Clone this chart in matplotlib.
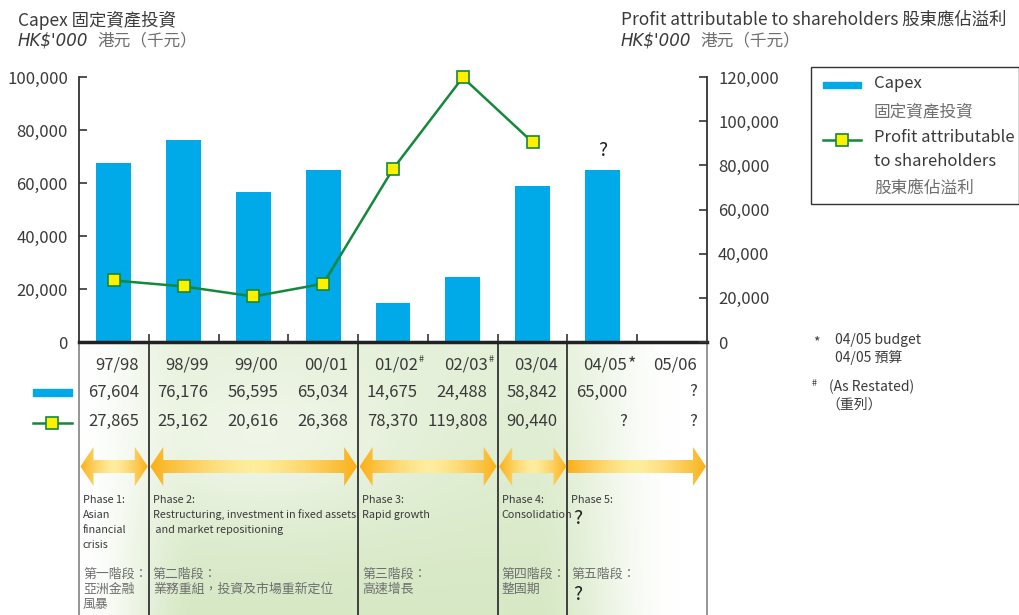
import numpy as np
import matplotlib
matplotlib.use("Agg")
import matplotlib.pyplot as plt
from matplotlib.patches import Rectangle, Polygon
from matplotlib.ticker import FuncFormatter

plt.rcParams["font.family"] = ["Noto Sans CJK TC", "DejaVu Sans"]

# data (HK$'000)
years = ["97/98", "98/99", "99/00", "00/01", "01/02", "02/03", "03/04", "04/05", "05/06"]
year_marks = ["", "", "", "", "#", "#", "", "*", ""]
capex = [67604, 76176, 56595, 65034, 14675, 24488, 58842, 65000, None]
profit = [27865, 25162, 20616, 26368, 78370, 119808, 90440, None, None]

# phases: first and last year index covered
phase_spans = [(0, 0), (1, 3), (4, 5), (6, 6), (7, 8)]
phase_en = [
    ["Phase 1:", "Asian", "financial", "crisis"],
    ["Phase 2:", "Restructuring, investment in fixed assets", " and market repositioning"],
    ["Phase 3:", "Rapid growth"],
    ["Phase 4:", "Consolidation"],
    ["Phase 5:"],
]
phase_zh = [
    ["第一階段：", "亞洲金融", "風暴"],
    ["第二階段：", "業務重組，投資及市場重新定位"],
    ["第三階段：", "高速增長"],
    ["第四階段：", "整固期"],
    ["第五階段："],
]

BAR = "#00a9e8"
GREEN = "#14883c"
YELLOW = "#fff000"
TXT = "#3a3a3a"
ZH = "#6e6e6e"

W, H = 1020, 615
X0, X1 = 79, 707          # plot area in pixels
Y0, YTOP = 342, 77
n = len(years)
cw = (X1 - X0) / n


def px(x):
    return X0 + (x + 0.5) * cw


fig = plt.figure(figsize=(W / 100, H / 100), dpi=100)

# background layer in pixel coordinates
bg = fig.add_axes([0, 0, 1, 1])
bg.set_xlim(0, W)
bg.set_ylim(H, 0)
bg.axis("off")

# green wash behind the table
gx = np.arange(X0, X1) + 0.5
gy = np.arange(Y0, H) + 0.5
GX, GY = np.meshgrid(gx, gy)
up = np.clip((GX - X0) / 120, 0, 1)
down = np.clip((680 - GX) / 150, 0, 1)
hx = (3 * up ** 2 - 2 * up ** 3) * (3 * down ** 2 - 2 * down ** 3)
vy = 0.65 + 0.35 * (GY - Y0) / (H - Y0)
spot = np.exp(-(((GX - 260) / 150) ** 2 + ((GY - 440) / 80) ** 2))
wgt = (hx * vy * (1 - 0.5 * spot))[..., None]
green = np.array([0.84, 0.91, 0.77])
img = 1 - wgt * (1 - green)
bg.imshow(img, extent=(X0, X1, H, Y0), aspect="auto", interpolation="bilinear", zorder=0)

# phase dividers
bounds = [phase_spans[0][0] - 0.5] + [s[1] + 0.5 for s in phase_spans]
for k, b in enumerate(bounds):
    outer = k in (0, len(bounds) - 1)
    bg.plot([px(b), px(b)], [Y0, H], color="#8c8c8c" if outer else "#333333",
            lw=1.3, zorder=2)

# phase arrows with a light centre
yc, hs, hh, hl = 466.5, 6.5, 19.5, 13
orange = np.array([0.98, 0.69, 0.10])
pale = np.array([1.0, 0.93, 0.62])
for k, (a, b) in enumerate(phase_spans):
    xl = px(a - 0.5) + 1.5
    xr = px(b + 0.5) - 1
    if k < len(phase_spans) - 1:
        pts = [(xl, yc), (xl + hl, yc - hh), (xl + hl, yc - hs), (xr - hl, yc - hs),
               (xr - hl, yc - hh), (xr, yc), (xr - hl, yc + hh), (xr - hl, yc + hs),
               (xl + hl, yc + hs), (xl + hl, yc + hh)]
    else:
        xl -= 1
        pts = [(xl, yc - hs), (xr - hl, yc - hs), (xr - hl, yc - hh), (xr, yc),
               (xr - hl, yc + hh), (xr - hl, yc + hs), (xl, yc + hs)]
    poly = Polygon(pts, closed=True, fill=False, edgecolor="none")
    bg.add_patch(poly)
    t = np.abs(np.linspace(-1, 1, 200))
    cols = pale[None, :] + (orange - pale)[None, :] * (t[:, None] ** 1.4)
    im = bg.imshow(cols[None, :, :], extent=(xl, xr, yc + hh, yc - hh),
                   aspect="auto", interpolation="bilinear", zorder=3)
    im.set_clip_path(poly)

    # phase descriptions
    tx = px(a - 0.5) + 4
    for j, line in enumerate(phase_en[k]):
        bg.text(tx, 500 + 15 * j, line, fontsize=7.8, color=TXT,
                va="center", ha="left", zorder=4)
    for j, line in enumerate(phase_zh[k]):
        bg.text(tx, 574 + 15 * j, line, fontsize=9.3, color=ZH,
                va="center", ha="left", zorder=4)
bg.text(px(6.5) + 6, 519, "?", fontsize=14, color="#222222", va="center", zorder=4)
bg.text(px(6.5) + 6, 594, "?", fontsize=14, color="#222222", va="center", zorder=4)


def fmt(v):
    return "?" if v is None else f"{v:,.0f}"


# table rows
for i in range(n):
    xr = px(i + 0.5) - 10
    bg.text(xr, 365.5, years[i], fontsize=12, color=TXT, ha="right", va="center", zorder=4)
    if year_marks[i] == "#":
        bg.text(xr + 1, 359, "#", fontsize=6.5, color=TXT, ha="left", va="center", zorder=4)
    elif year_marks[i] == "*":
        bg.text(xr + 1, 364, "*", fontsize=13, color=TXT, ha="left", va="center", zorder=4)
    bg.text(xr, 392, fmt(capex[i]), fontsize=12, color=TXT, ha="right", va="center", zorder=4)
    bg.text(xr, 421.5, fmt(profit[i]), fontsize=12, color=TXT, ha="right", va="center", zorder=4)

bg.add_patch(Rectangle((33, 389), 39, 7, color=BAR, zorder=4))
bg.plot([33, 72], [423, 423], color=GREEN, lw=1.8, zorder=4)
bg.plot([52.5], [423], marker="s", ms=8, mfc=YELLOW, mec=GREEN, mew=1.2, zorder=5)

# titles
bg.text(18, 20, "Capex 固定資產投資", fontsize=12.5, color=TXT, va="center")
bg.text(18, 41, "HK$'000", fontsize=12, color=TXT, style="italic", va="center",
        family=["DejaVu Sans"])
bg.text(97, 41, "港元（千元）", fontsize=12, color=ZH, va="center")
bg.text(621, 20, "Profit attributable to shareholders 股東應佔溢利", fontsize=12.5,
        color=TXT, va="center")
bg.text(621, 41, "HK$'000", fontsize=12, color=TXT, style="italic", va="center",
        family=["DejaVu Sans"])
bg.text(700, 41, "港元（千元）", fontsize=12, color=ZH, va="center")

# legend box
bg.add_patch(Rectangle((811, 67), 208, 137, fill=False, ec="#333333", lw=1))
bg.add_patch(Rectangle((823, 81.5), 38, 6, color=BAR))
bg.plot([823, 861], [140, 140], color=GREEN, lw=1.8)
bg.plot([842], [140], marker="s", ms=8, mfc=YELLOW, mec=GREEN, mew=1.2)
bg.text(874, 84, "Capex", fontsize=12, color=TXT, va="center")
bg.text(874, 112, "固定資產投資", fontsize=12, color=ZH, va="center")
bg.text(874, 138, "Profit attributable", fontsize=12, color=TXT, va="center")
bg.text(874, 161, "to shareholders", fontsize=12, color=TXT, va="center")
bg.text(874, 188, "股東應佔溢利", fontsize=12, color=ZH, va="center")

# footnotes
bg.text(813, 342, "*", fontsize=10, color=TXT, va="center")
bg.text(835, 340, "04/05 budget", fontsize=10, color=TXT, va="center")
bg.text(835, 358, "04/05 預算", fontsize=10, color=TXT, va="center")
bg.text(812, 384, "#", fontsize=6.5, color=TXT, va="center")
bg.text(829, 387, "(As Restated)", fontsize=10, color=TXT, va="center")
bg.text(826, 405, "（重列）", fontsize=10, color=TXT, va="center")

# bar chart and profit line
ax = fig.add_axes([X0 / W, 1 - Y0 / H, (X1 - X0) / W, (Y0 - YTOP) / H])
ax.patch.set_visible(False)
ax.set_xlim(-0.5, n - 0.5)
ax.set_ylim(0, 100000)
idx = [i for i, v in enumerate(capex) if v is not None]
ax.bar(idx, [capex[i] for i in idx], width=0.5, color=BAR, zorder=2)
ax.annotate("?", (7, capex[7]), xytext=(0, 14), textcoords="offset points",
            ha="center", va="center", fontsize=14, color="#222222")

ax2 = ax.twinx()
ax2.set_ylim(0, 120000)
pidx = [i for i, v in enumerate(profit) if v is not None]
ax2.plot(pidx, [profit[i] for i in pidx], color=GREEN, lw=1.8, marker="s", ms=8,
         mfc=YELLOW, mec=GREEN, mew=1.2, clip_on=False, zorder=3)

money = FuncFormatter(lambda v, p: f"{v:,.0f}")
ax.set_yticks(np.arange(0, 100001, 20000))
ax2.set_yticks(np.arange(0, 120001, 20000))
ax.yaxis.set_major_formatter(money)
ax2.yaxis.set_major_formatter(money)
ax.set_xticks(np.arange(0.5, n - 1, 1))
ax.tick_params(axis="x", direction="in", length=6, width=1.2, color="#333333",
               labelbottom=False)
for a in (ax, ax2):
    a.tick_params(axis="y", direction="in", length=6, width=1.2, color="#333333",
                  labelsize=12, labelcolor=TXT, pad=8)
    a.spines["top"].set_visible(False)
ax.spines["right"].set_visible(False)
ax.spines["left"].set_color("#333333")
ax.spines["left"].set_linewidth(1.3)
ax.spines["bottom"].set_color("#222222")
ax.spines["bottom"].set_linewidth(2.5)
ax2.spines["left"].set_visible(False)
ax2.spines["bottom"].set_visible(False)
ax2.spines["right"].set_color("#333333")
ax2.spines["right"].set_linewidth(1.3)

fig.savefig("out.png", dpi=100)
